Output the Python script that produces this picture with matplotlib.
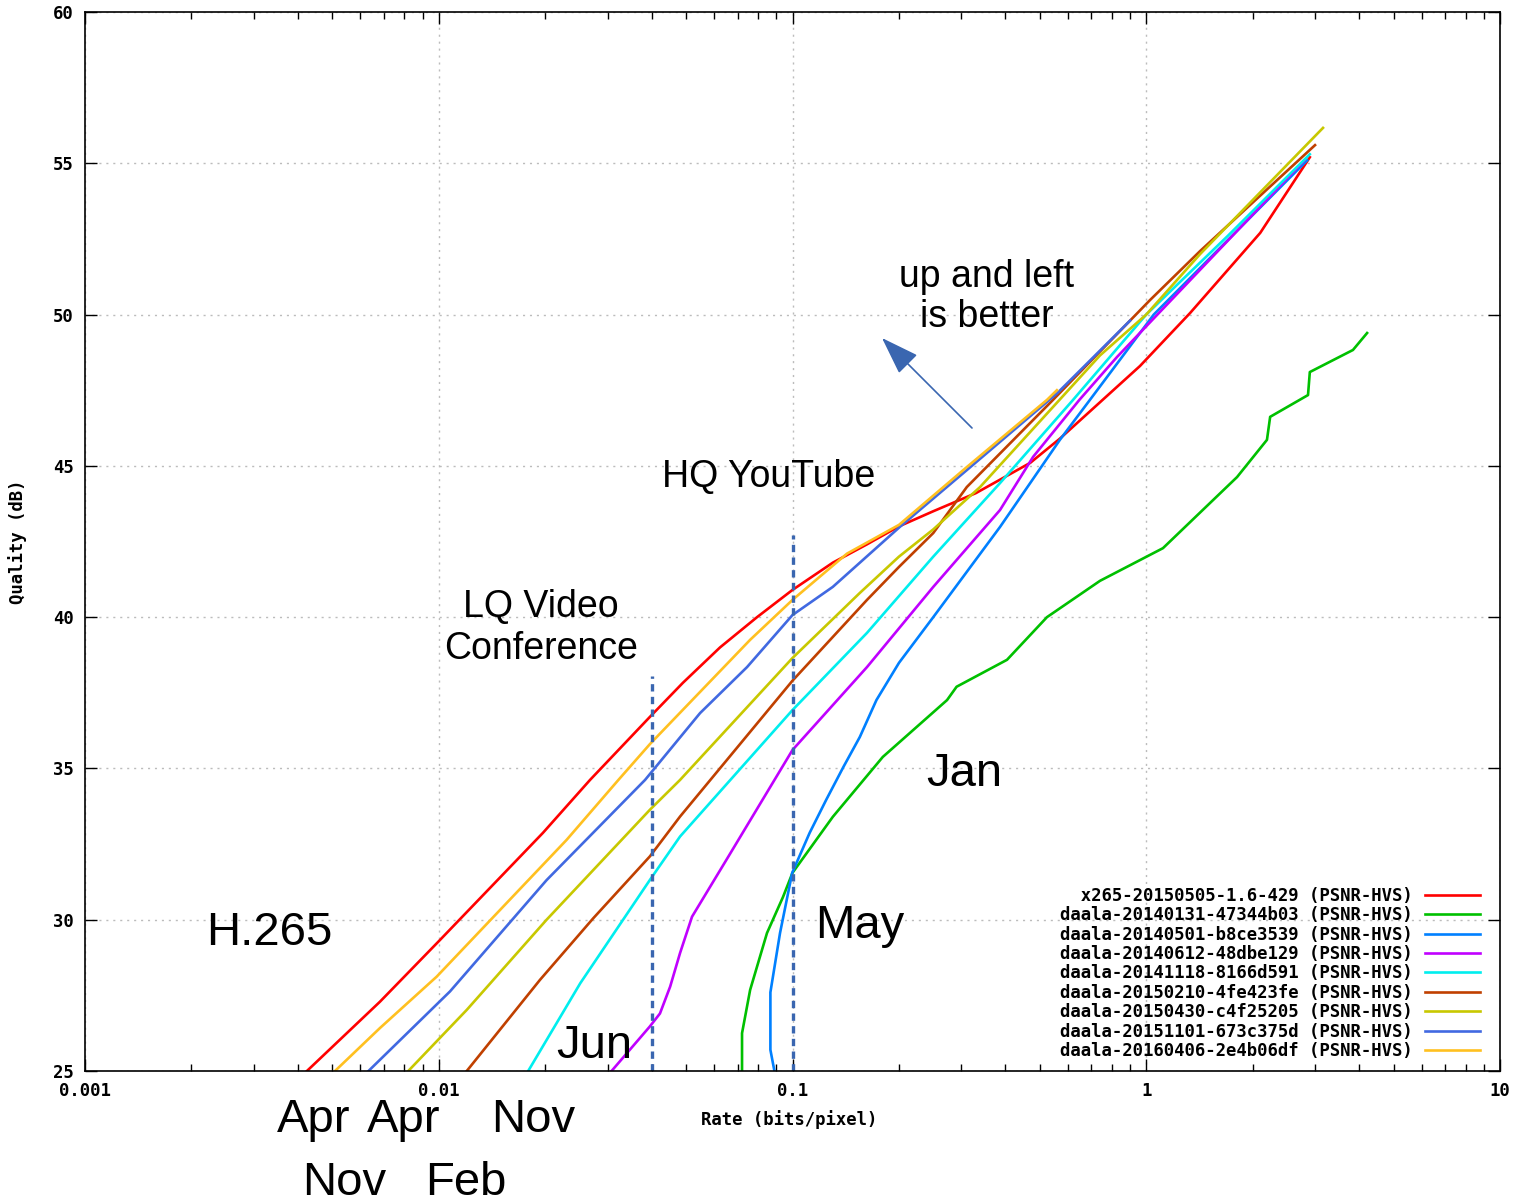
import matplotlib
matplotlib.use("Agg")
import matplotlib.pyplot as plt

W, H = 1517, 1202

labels = [
    "  x265-20150505-1.6-429 (PSNR-HVS)",
    "daala-20140131-47344b03 (PSNR-HVS)",
    "daala-20140501-b8ce3539 (PSNR-HVS)",
    "daala-20140612-48dbe129 (PSNR-HVS)",
    "daala-20141118-8166d591 (PSNR-HVS)",
    "daala-20150210-4fe423fe (PSNR-HVS)",
    "daala-20150430-c4f25205 (PSNR-HVS)",
    "daala-20151101-673c375d (PSNR-HVS)",
    "daala-20160406-2e4b06df (PSNR-HVS)",
]
colors = ["#ff0000", "#00c000", "#0080ff", "#c000ff", "#00eeee",
          "#c04000", "#c8c800", "#4169e1", "#ffc020"]

# rate (bits/pixel), quality (dB)
x265_x = [0.00424, 0.00682, 0.01008, 0.0197, 0.02677, 0.0395, 0.049, 0.0624, 0.0794, 0.1, 0.13, 0.162, 0.2, 0.25, 0.33, 0.47, 0.57, 0.96, 1.33, 2.10, 2.90]
x265_y = [25.0, 27.29, 29.33, 32.87, 34.62, 36.7, 37.83, 39.0, 40.0, 40.9, 41.8, 42.4, 43.0, 43.5, 44.1, 45.1, 45.9, 48.3, 50.05, 52.7, 55.2]

jan14_x = [0.072, 0.072, 0.0759, 0.0847, 0.094, 0.1, 0.13, 0.18, 0.2735, 0.291, 0.404, 0.524, 0.74, 1.115, 1.806, 2.194, 2.24, 2.866, 2.90, 3.84, 4.21]
jan14_y = [25.0, 26.25, 27.68, 29.56, 30.75, 31.55, 33.4, 35.38, 37.26, 37.7, 38.59, 40.0, 41.2, 42.28, 44.63, 45.86, 46.62, 47.34, 48.1, 48.83, 49.39]

may14_x = [0.0889, 0.0866, 0.0866, 0.0922, 0.0998, 0.1118, 0.1245, 0.1393, 0.155, 0.1727, 0.2, 0.25, 0.386, 0.57, 0.693, 1.05, 2.85]
may14_y = [25.0, 25.7, 27.6, 29.56, 31.55, 32.87, 33.96, 35.05, 36.04, 37.26, 38.49, 40.0, 42.98, 45.86, 47.18, 50.0, 55.1]

jun14_x = [0.0308, 0.0395, 0.0422, 0.0451, 0.0481, 0.052, 0.0659, 0.1, 0.1624, 0.25, 0.386, 0.479, 0.647, 0.827, 2.8]
jun14_y = [25.0, 26.47, 26.9, 27.79, 28.9, 30.1, 32.09, 35.61, 38.35, 41.0, 43.54, 45.3, 47.18, 48.6, 55.1]

nov14_x = [0.0179, 0.02512, 0.0395, 0.0481, 0.1, 0.1624, 0.25, 0.386, 0.621, 1.0, 1.7, 2.9]
nov14_y = [25.0, 27.9, 31.31, 32.75, 36.93, 39.48, 42.0, 44.43, 47.18, 50.0, 52.6, 55.3]

feb15_x = [0.012, 0.01932, 0.02735, 0.0395, 0.0481, 0.1, 0.1624, 0.2, 0.25, 0.311, 0.545, 1.025, 1.42, 3.0]
feb15_y = [25.0, 28.01, 30.05, 32.09, 33.41, 37.9, 40.57, 41.66, 42.78, 44.3, 47.18, 50.48, 52.1, 55.6]

apr15_x = [0.0082, 0.012, 0.02018, 0.0395, 0.0481, 0.1, 0.155, 0.2, 0.25, 0.339, 0.74, 1.0, 1.42, 3.16]
apr15_y = [25.0, 27.02, 30.0, 33.63, 34.62, 38.65, 40.8, 42.0, 42.9, 44.3, 48.65, 50.0, 52.0, 56.17]

nov15_x = [0.00633, 0.00682, 0.01076, 0.02018, 0.0383, 0.0548, 0.0744, 0.1, 0.13, 0.201, 0.311, 0.56, 0.9]
nov15_y = [25.0, 25.37, 27.63, 31.31, 34.62, 36.83, 38.35, 40.07, 41.0, 42.98, 44.86, 47.4, 49.8]

apr16_x = [0.00509, 0.00682, 0.00987, 0.02299, 0.0322, 0.0395, 0.0759, 0.1, 0.1426, 0.2, 0.311, 0.524, 0.559]
apr16_y = [25.0, 26.42, 28.12, 32.64, 34.62, 35.8, 39.25, 40.57, 42.1, 43.05, 44.96, 47.18, 47.5]

series_x = [x265_x, jan14_x, may14_x, jun14_x, nov14_x, feb15_x, apr15_x, nov15_x, apr16_x]
series_y = [x265_y, jan14_y, may14_y, jun14_y, nov14_y, feb15_y, apr15_y, nov15_y, apr16_y]

# use-case markers: rate and top quality of the dashed lines
marker_rates = [0.04, 0.1]
marker_tops = [38.06, 42.72]

xticks = [0.001, 0.01, 0.1, 1, 10]
xtick_labels = ["0.001", "0.01", "0.1", "1", "10"]
yticks = [25, 30, 35, 40, 45, 50, 55, 60]

mono = {"family": "DejaVu Sans Mono", "weight": "bold", "size": 12.4}
sans = ["Liberation Sans", "DejaVu Sans"]

fig = plt.figure(figsize=(W / 100, H / 100), dpi=100)
ax = fig.add_axes([85 / W, 1 - 1071 / H, (1500 - 85) / W, (1071 - 12) / H])

for xs, ys, c, lab in zip(series_x, series_y, colors, labels):
    ax.plot(xs, ys, color=c, lw=1.9, label=lab, solid_joinstyle="round")

for r, top in zip(marker_rates, marker_tops):
    ax.plot([r, r], [25, top], color="#3a66b0", lw=2.4, dashes=(2.2, 1.6),
            dash_capstyle="butt")

ax.set_xscale("log")
ax.set_xlim(0.001, 10)
ax.set_ylim(25, 60)
ax.set_xticks(xticks)
ax.set_xticklabels(xtick_labels)
ax.set_yticks(yticks)
ax.grid(which="major", color="#bcbcbc", lw=1.0, linestyle=(0, (1.5, 3.5)))
ax.tick_params(which="both", direction="in", top=True, right=True, width=1)
ax.tick_params(which="major", length=8.5, pad=8)
ax.tick_params(which="minor", length=5)
for t in ax.get_xticklabels() + ax.get_yticklabels():
    t.set_fontfamily(mono["family"])
    t.set_fontweight("bold")
    t.set_fontsize(mono["size"])
for s in ax.spines.values():
    s.set_linewidth(1.2)

ax.set_xlabel("Rate (bits/pixel)", fontdict=mono)
ax.set_ylabel("Quality (dB)", fontdict=mono)
ax.xaxis.set_label_coords(0.498, -0.037)
ax.yaxis.set_label_coords(-0.041, 0.5)

leg = ax.legend(loc="lower right", bbox_to_anchor=(1480 / W, 1 - 1060 / H),
                bbox_transform=fig.transFigure, frameon=False, markerfirst=False,
                prop=mono, handlelength=3.2, handletextpad=0.7,
                labelspacing=0.08, borderpad=0, borderaxespad=0, handleheight=0.7)


def fig_xy(px, py):
    return px / W, 1 - py / H


notes = [
    ("up and left", 987, 287, 27, "center"),
    ("is better", 987, 327, 27, "center"),
    ("HQ YouTube", 662, 487, 27, "left"),
    ("LQ Video", 541, 617, 27, "center"),
    ("Conference", 541, 659, 27, "center"),
    ("H.265", 206, 945, 34, "left"),
    ("Jun", 556, 1058, 34, "left"),
    ("May", 815, 938, 34, "left"),
    ("Jan", 926, 786, 34, "left"),
    ("Apr", 277, 1132, 34, "left"),
    ("Apr", 367, 1132, 34, "left"),
    ("Nov", 491, 1132, 34, "left"),
    ("Nov", 302, 1195, 34, "left"),
    ("Feb", 425, 1195, 34, "left"),
]
for txt, px, py, size, ha in notes:
    fx, fy = fig_xy(px, py)
    fig.text(fx, fy, txt, family=sans, fontsize=size, ha=ha, va="baseline")

ax.annotate("", xy=fig_xy(882, 338), xytext=fig_xy(972, 428),
            xycoords="figure fraction", textcoords="figure fraction",
            arrowprops=dict(arrowstyle="-|>,head_length=1.6,head_width=0.55",
                            color="#3a66b0", lw=1.2, mutation_scale=15,
                            shrinkA=0, shrinkB=0))

fig.savefig("out.png", dpi=100)
